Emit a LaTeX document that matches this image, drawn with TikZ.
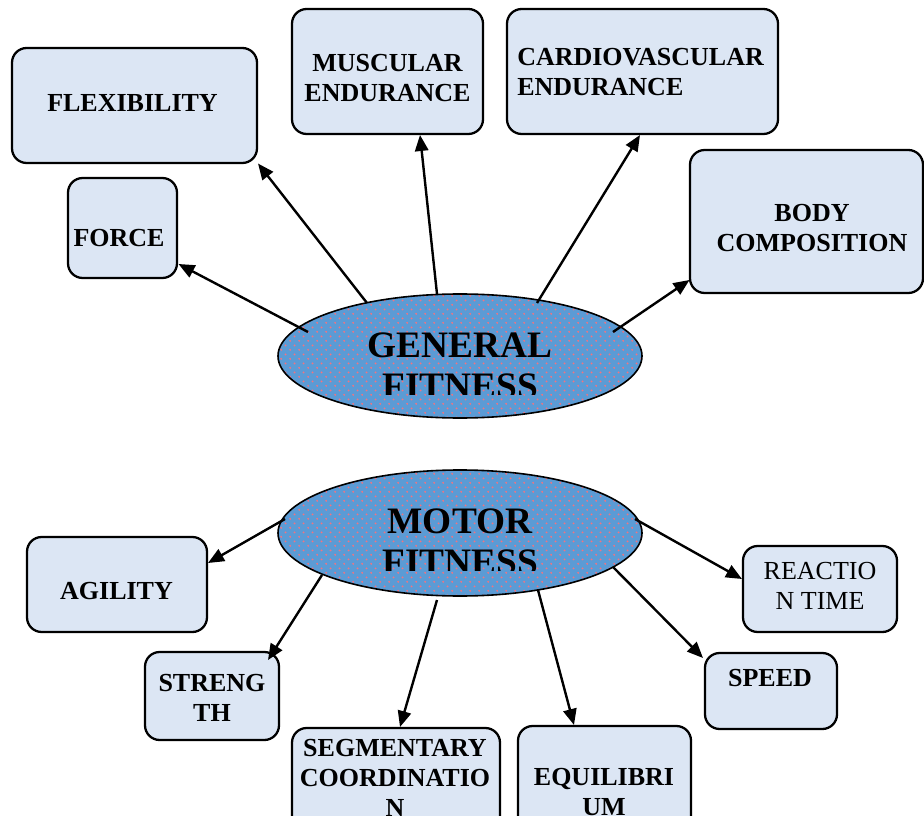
\documentclass[tikz,border=0pt]{standalone}
\usepackage{fontspec}
\setmainfont{Liberation Serif}
\usetikzlibrary{arrows.meta,shapes.geometric,patterns.meta,calc}
\definecolor{boxfill}{HTML}{DCE6F4}
\definecolor{ellfill}{HTML}{5B9BD5}
\definecolor{dotred}{HTML}{F07482}
\tikzdeclarepattern{
  name=reddots, type=uncolored,
  bounding box={(0pt,0pt) and (7pt,7pt)},
  tile size={(7pt,7pt)},
  code={\fill (1.75pt,1.75pt) circle (0.85pt);
        \fill (5.25pt,5.25pt) circle (0.85pt);}}
\tikzset{
  boxnode/.style={rectangle, draw, line width=1.7pt, fill=boxfill, rounded corners=11pt, inner sep=0pt},
  ellnode/.style={ellipse, draw, line width=1.2pt, preaction={fill=ellfill}, pattern=reddots, pattern color=dotred, inner sep=0pt, minimum width=273pt},
  boxtext/.style={font=\fontsize{19.5}{22.5}\selectfont\bfseries, align=center, inner sep=0pt},
  plaintext/.style={font=\fontsize{19.5}{22.5}\selectfont, align=center, inner sep=0pt},
  elltext/.style={font=\fontsize{28}{31}\selectfont\bfseries, align=center, inner sep=0pt},
  conn/.style={line width=1.8pt, -{Triangle[length=12pt,width=10pt]}}
}
\begin{document}
\begin{tikzpicture}[x=0.75pt,y=-0.75pt]
\useasboundingbox (0,0) rectangle (924,816);
\clip (0,0) rectangle (924,816);

% top boxes
\node[boxnode, minimum width=183.75pt, minimum height=86.25pt] (flex) at (134.5,105.5) {};
\node[boxtext] (flext) at (132.5,103.5) {FLEXIBILITY};
\node[boxnode, minimum width=81.75pt, minimum height=75pt] (force) at (122.5,228) {};
\node[boxtext] (forcet) at (119,238.5) {FORCE};
\node[boxnode, minimum width=143.25pt, minimum height=93.75pt] (musc) at (387.5,71.5) {};
\node[boxtext] (musct) at (387.5,78.5) {MUSCULAR\\ENDURANCE};
\node[boxnode, minimum width=203.25pt, minimum height=93.75pt] (cardio) at (642.5,71.5) {};
\node[boxtext, align=left, anchor=west] (cardiot) at (517,72.5) {CARDIOVASCULAR\\ENDURANCE};
\node[boxnode, minimum width=174.75pt, minimum height=107.25pt] (body) at (806.5,221.5) {};
\node[boxtext] (bodyt) at (812,228.5) {BODY\\COMPOSITION};

% bottom boxes
\node[boxnode, minimum width=135pt, minimum height=71.25pt] (agil) at (117,584.5) {};
\node[boxtext] (agilt) at (116.5,591) {AGILITY};
\node[boxnode, minimum width=100.5pt, minimum height=66pt] (strn) at (212,696) {};
\node[boxtext] (strnt) at (212,697.5) {STRENG\\TH};
\node[boxnode, minimum width=156pt, minimum height=91.5pt] (seg) at (396,789) {};
\node[boxtext] (segt) at (395,778) {SEGMENTARY\\COORDINATIO\\N};
\node[boxnode, minimum width=129.75pt, minimum height=93pt] (equi) at (604.5,788) {};
\node[boxtext] (equit) at (604,792.5) {EQUILIBRI\\UM};
\node[boxnode, minimum width=99pt, minimum height=57pt] (speed) at (771,691) {};
\node[boxtext] (speedt) at (770,678.5) {SPEED};
\node[boxnode, minimum width=115.5pt, minimum height=64.5pt] (react) at (820,589) {};
\node[plaintext] (reactt) at (820,585.5) {REACTIO\\N TIME};

% ellipses
\node[ellnode, minimum height=93pt] (gen) at (460,356) {};
\begin{scope}
  \clip (270,300) rectangle (650,394);
  \node[elltext] (gent) at (460,366) {GENERAL\\FITNESS};
\end{scope}
\node[ellnode, minimum height=94.5pt] (mot) at (460,533) {};
\begin{scope}
  \clip (270,475) rectangle (650,570);
  \node[elltext] (mott) at (460,542) {MOTOR\\FITNESS};
\end{scope}

% connectors general fitness
\draw[conn] ($(gen)+(-152,-24)$) -- ($(force)+(56,36)$);
\draw[conn] ($(gen)+(-93,-53)$) -- ($(flex)+(123.5,58)$);
\draw[conn] ($(gen)+(-23,-62)$) -- ($(musc)+(32.5,63.5)$);
\draw[conn] ($(gen)+(77,-53)$) -- ($(cardio)+(-2.5,63.5)$);
\draw[conn] ($(gen)+(153,-24)$) -- ($(body)+(-117,58.5)$);

% connectors motor fitness
\draw[conn] ($(mot)+(-175,-14)$) -- ($(agil)+(91,-21.5)$);
\draw[conn] ($(mot)+(-138,42)$) -- ($(strn)+(56,-36)$);
\draw[conn] ($(mot)+(-23,67)$) -- ($(seg)+(4,-62)$);
\draw[conn] ($(mot)+(78,57)$) -- ($(equi)+(-30.5,-63)$);
\draw[conn] ($(mot)+(153,34)$) -- ($(speed)+(-68,-33)$);
\draw[conn] ($(mot)+(175,-14)$) -- ($(react)+(-78,-10)$);
\end{tikzpicture}
\end{document}
